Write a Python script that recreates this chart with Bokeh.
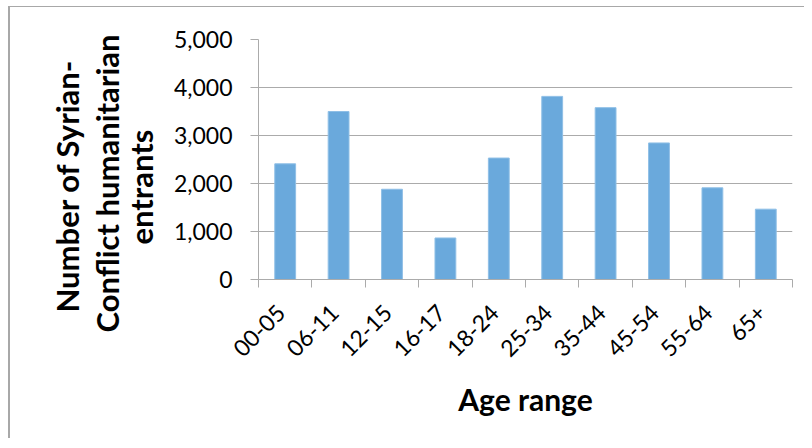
import numpy as np
from bokeh.plotting import figure
from bokeh.models import Range1d, FixedTicker, NumeralTickFormatter, Title
from bokeh.embed import file_html
from bokeh.resources import INLINE

# ---- data ----
age_ranges = ["00-05", "06-11", "12-15", "16-17", "18-24", "25-34", "35-44", "45-54", "55-64", "65+"]
entrants = [2410, 3500, 1880, 865, 2530, 3815, 3580, 2845, 1910, 1465]
y_ticks = [0, 1000, 2000, 3000, 4000, 5000]
x_title = "Age range"
y_title_lines = ["Number of Syrian-", "Conflict humanitarian", "entrants"]

n = len(age_ranges)
centers = [i + 0.5 for i in range(n)]
bounds = [float(i) for i in range(n + 1)]
# rotated labels end slightly left of each category centre (Excel style)
label_pos = [round(c - 0.08, 2) for c in centers]

GRID = "#ababab"
BAR = "#6aa9dc"
FONT = "Lato"

p = figure(width=796, height=432, output_backend="svg", toolbar_location=None,
           x_range=Range1d(0, n), y_range=Range1d(y_ticks[0], y_ticks[-1]),
           min_border_left=248, min_border_right=14, min_border_top=32, min_border_bottom=160,
           styles={"margin-left": "8px", "margin-top": "6px",
                   "border-left": "2px solid #a8a8a8", "border-top": "1px solid #a8a8a8"})

p.vbar(x=centers, top=entrants, width=0.39, fill_color=BAR, line_color="#8fbfe6", line_width=1)

p.outline_line_color = None
p.background_fill_color = "white"
p.border_fill_color = "white"

# y axis
yax = p.yaxis[0]
yax.ticker = FixedTicker(ticks=y_ticks, minor_ticks=[])
yax.formatter = NumeralTickFormatter(format="0,0")
yax.major_tick_out = 8
yax.major_tick_in = 0
yax.minor_tick_out = 0
yax.axis_line_color = GRID
yax.major_tick_line_color = GRID
yax.major_label_text_font = FONT
yax.major_label_text_font_size = "23px"
yax.major_label_text_color = "black"
yax.major_label_standoff = 18

p.ygrid.ticker = FixedTicker(ticks=y_ticks)
p.ygrid.grid_line_color = GRID
p.ygrid.grid_line_width = 1.2
p.xgrid.grid_line_color = None

# x axis
xax = p.xaxis[0]
xax.ticker = FixedTicker(ticks=label_pos, minor_ticks=bounds)
xax.major_label_overrides = {c: lab for c, lab in zip(label_pos, age_ranges)}
xax.major_tick_out = 0
xax.major_tick_in = 0
xax.minor_tick_out = 8
xax.minor_tick_in = 0
xax.minor_tick_line_color = GRID
xax.axis_line_color = GRID
xax.major_label_orientation = np.pi / 4
xax.major_label_text_font = FONT
xax.major_label_text_font_size = "23px"
xax.major_label_text_color = "black"
xax.major_label_standoff = 21
xax.axis_label = x_title
xax.axis_label_text_font = FONT
xax.axis_label_text_font_style = "bold"
xax.axis_label_text_font_size = "30px"
xax.axis_label_text_color = "black"
xax.axis_label_standoff = 14

# multi-line y title: one Title per line (innermost first), each centred on y≈1900
line_offsets = {"entrants": 35, "Conflict humanitarian": -53, "Number of Syrian-": -33}
line_standoffs = {"entrants": 21, "Conflict humanitarian": -32, "Number of Syrian-": 32}
for line in reversed(y_title_lines):
    p.add_layout(Title(text=line, align="left", offset=line_offsets[line],
                       standoff=line_standoffs[line],
                       text_font=FONT, text_font_style="bold", text_font_size="31px",
                       text_color="black"), "left")

open("out.html", "w").write(file_html(p, INLINE))
